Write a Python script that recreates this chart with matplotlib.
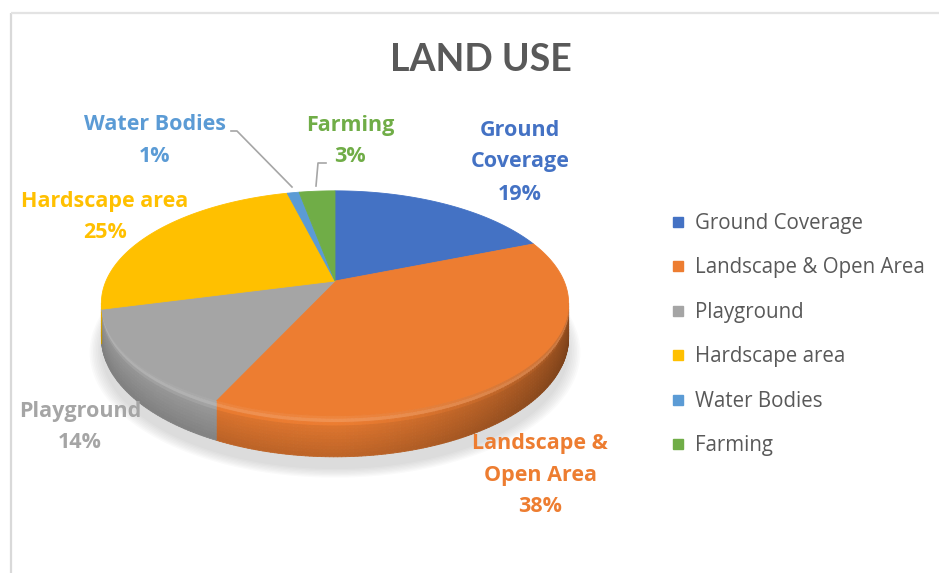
import numpy as np
import matplotlib
matplotlib.use("Agg")
import matplotlib.pyplot as plt
from matplotlib.patches import Polygon
from matplotlib.collections import PolyCollection
from matplotlib.lines import Line2D
from matplotlib.colors import to_rgb

# ---------------- data ----------------
title = "LAND USE"
categories = ["Ground Coverage", "Landscape & Open Area", "Playground",
              "Hardscape area", "Water Bodies", "Farming"]
values = [19, 38, 14, 25, 1, 3]
colors = ["#4472C4", "#ED7D31", "#A5A5A5", "#FFC000", "#5B9BD5", "#70AD47"]
label_lines = [["Ground", "Coverage"], ["Landscape &", "Open Area"], ["Playground"],
               ["Hardscape area"], ["Water Bodies"], ["Farming"]]

# ---------------- layout ----------------
W, H = 939, 573
CX, CY = 335, 281          # apex of the pie (pixels)
RX, RY = 229, 108          # radii
K = 0.198                  # perspective factor
T = 33                     # thickness
label_pos = [(520, 130), (540, 443), (80, 411), (105, 201), (155, 125), (350, 125)]
line_gap = 32.0
TFONT = "Lato"
FONT = "Open Sans"
TXT = "#595959"

fig = plt.figure(figsize=(W / 100, H / 100), dpi=100)
ax = fig.add_axes([0, 0, 1, 1])
ax.set_xlim(0, W)
ax.set_ylim(H, 0)
ax.axis("off")

# chart border
ax.plot([10.5, 10.5], [H, 13], color="#D9D9D9", lw=1.6, solid_capstyle="butt")
ax.plot([10.5, W], [13, 13], color="#E3E3E3", lw=1.6, solid_capstyle="butt")


def proj(theta_deg):
    t = np.radians(theta_deg)
    u, w = np.sin(t), np.cos(t)
    f = 1.0 / (1.0 + K * w)
    return CX + RX * u * f, CY - RY * w * f, f


total = float(sum(values))
bounds = np.concatenate([[0], np.cumsum(values)]) / total * 360.0

# shadow
th = np.linspace(0, 360, 361)
x, y, f = proj(th)
yb = y + T * f
for i, s in enumerate(np.linspace(1.0, 1.05, 8)):
    xs = CX + (x - CX) * s
    ys = CY + 12 + (yb - CY) * s
    ax.add_patch(Polygon(np.c_[xs, ys], closed=True, facecolor="#7F7F7F",
                         edgecolor="none", alpha=0.035, zorder=1))


def shade(c, fac):
    c = np.array(c)
    if fac >= 1:
        return np.clip(c + (1 - c) * (fac - 1) * 2.0, 0, 1)
    return np.clip(c * fac, 0, 1)


# side walls
ta = np.degrees(np.arccos(-K))
tb = 360 - ta
vprof_v = [0.0, 0.10, 0.28, 0.55, 1.0]
vprof_f = [0.98, 1.10, 0.93, 0.88, 0.80]
nb = 12
polys, fcols = [], []
for i in range(len(values)):
    a0, a1 = max(bounds[i], ta), min(bounds[i + 1], tb)
    if a1 <= a0:
        continue
    base = to_rgb(colors[i])
    n = max(2, int((a1 - a0) / 0.8))
    ts = np.linspace(a0, a1, n + 1)
    for j in range(n):
        t0, t1 = ts[j], ts[j + 1]
        x0, y0, f0 = proj(t0)
        x1, y1, f1 = proj(t1)
        tm = 0.5 * (t0 + t1)
        sm = np.sin(np.radians(tm))
        hfac = 1.0 - 0.38 * max(0.0, sm) ** 1.3 - 0.04 * max(0.0, -sm)
        for k in range(nb):
            v0, v1 = k / nb, (k + 1) / nb
            quad = [(x0, y0 + T * f0 * v0), (x1, y1 + T * f1 * v0),
                    (x1, y1 + T * f1 * v1), (x0, y0 + T * f0 * v1)]
            vf = np.interp(0.5 * (v0 + v1), vprof_v, vprof_f)
            if vf >= 1:
                col = shade(base, vf) * (0.55 + 0.45 * hfac)
            else:
                col = shade(base, vf * hfac)
            polys.append(quad)
            fcols.append(np.clip(col, 0, 1))
ax.add_collection(PolyCollection(polys, facecolors=fcols, edgecolors=fcols,
                                 linewidths=0.6, zorder=2))

# top faces
for i in range(len(values)):
    ts = np.linspace(bounds[i], bounds[i + 1], max(3, int(values[i] * 8)))
    x, y, _ = proj(ts)
    pts = np.vstack([[CX, CY], np.c_[x, y]])
    ax.add_patch(Polygon(pts, closed=True, facecolor=colors[i], edgecolor=colors[i],
                         lw=0.6, zorder=3))

# title
ax.text(481, 60, title, ha="center", va="center", fontsize=27, fontweight="bold",
        color=TXT, family=TFONT, zorder=6)

# data labels
for i, lines in enumerate(label_lines):
    px, py = label_pos[i]
    pct = f"{values[i] / total * 100:.0f}%"
    for j, s in enumerate(lines + [pct]):
        ax.text(px, py + j * line_gap, s, ha="center", va="center", fontsize=15.5,
                fontweight="bold", color=colors[i], family=FONT, zorder=6)

# leader lines
ax.plot([231, 237, 292], [131, 131, 187], color="#A6A6A6", lw=1.2, zorder=5)
ax.plot([326, 318, 316], [163, 163, 186], color="#A6A6A6", lw=1.2, zorder=5)

# legend
handles = [Line2D([], [], marker="s", linestyle="", markersize=7, color=c,
                  markeredgecolor=c) for c in colors]
leg = ax.legend(handles, categories, loc="upper left",
                bbox_to_anchor=(673 / W, 1 - 213 / H), bbox_transform=fig.transFigure,
                frameon=False, handlelength=0.5, handletextpad=0.55,
                labelspacing=1.14, borderpad=0, borderaxespad=0,
                prop={"family": FONT, "size": 14.8})
for t in leg.get_texts():
    t.set_color(TXT)

fig.savefig("out.png", dpi=100)
